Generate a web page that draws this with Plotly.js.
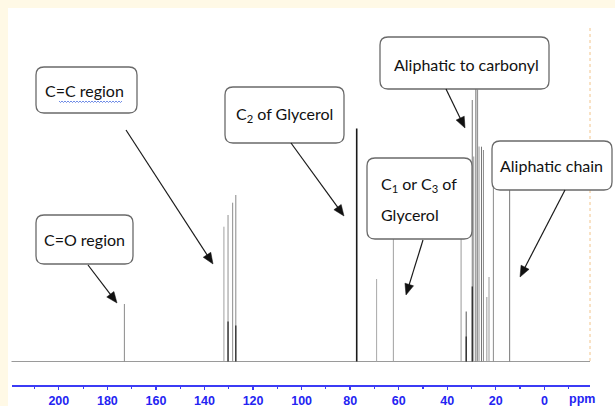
<!DOCTYPE html>
<html>
<head>
<meta charset="utf-8">
<script src="https://cdn.plot.ly/plotly-3.0.1.min.js"></script>
<style>html,body{margin:0;padding:0;background:#FFF9E6;}#chart{width:615px;height:406px;}</style>
</head>
<body>
<div id="chart"></div>
<script>
// ---- data ----
const peakPpm       = [173.0, 132.0, 130.3, 128.4, 127.1, 77.3, 69.1, 62.2, 34.3, 32.2, 29.7, 29.1, 28.2, 27.5, 26.9, 25.9, 25.1, 23.7, 22.8, 21.0, 14.3];
const peakIntensity = [57.5, 134.8, 146.5, 158.8, 166.5, 233, 82.5, 140, 140, 50, 261.5, 205, 273.5, 272, 215, 214.8, 211.5, 64.5, 84.5, 185, 185];
const peakShade     = ['#8a8a8a','#a0a0a0','#909090','#8c8c8c','#888888','#1a1a1a','#a8a8a8','#a0a0a0','#9a9a9a','#555555','#7a7a7a','#999999','#6a6a6a','#8a8a8a','#9a9a9a','#777777','#8a8a8a','#999999','#999999','#8a8a8a','#777777'];
const peakDark      = [0, 0, 40, 0, 36, 0, 0, 0, 0, 25, 75, 0, 0, 0, 0, 0, 0, 0, 0, 0, 0];
const tickValues = [200, 180, 160, 140, 120, 100, 80, 60, 40, 20, 0];
const tickLabels = ['200','180','160','140','120','100','80','60','40','20','0'];
const axisUnit = 'ppm';

// ---- layout helpers (pixel -> paper) ----
const W = 615, H = 406;
const PX = p => p / W;
const PY = p => 1 - p / H;

const traces = [];
for (let i = 0; i < peakPpm.length; i++) {
  traces.push({x:[peakPpm[i], peakPpm[i]], y:[0, peakIntensity[i]], mode:'lines',
    line:{color:peakShade[i], width: i === 5 ? 1.6 : 1}, hoverinfo:'skip', showlegend:false});
  if (peakDark[i] > 0) {
    traces.push({x:[peakPpm[i], peakPpm[i]], y:[0, peakDark[i]], mode:'lines',
      line:{color:'#222', width:1.2}, hoverinfo:'skip', showlegend:false});
  }
}

function roundRect(x0, y0, x1, y1, r) {
  const rx = r / W, ry = r / H;
  const a = PX(x0), b = PX(x1), t = PY(y0), bt = PY(y1);
  const p = `M ${a+rx},${t} L ${b-rx},${t} Q ${b},${t} ${b},${t-ry} L ${b},${bt+ry} Q ${b},${bt} ${b-rx},${bt} L ${a+rx},${bt} Q ${a},${bt} ${a},${bt+ry} L ${a},${t-ry} Q ${a},${t} ${a+rx},${t} Z`;
  return {type:'path', xref:'paper', yref:'paper', path:p, fillcolor:'#ffffff',
    line:{color:'#6a6a6a', width:1.3}, layer:'above'};
}

function arrowShapes(sx, sy, tx, ty) {
  const dx = tx - sx, dy = ty - sy, L = Math.hypot(dx, dy);
  const ux = dx / L, uy = dy / L, hl = 11, hw = 4.5;
  const bx = tx - ux * hl, by = ty - uy * hl;
  const px = -uy, py = ux;
  const tri = `M ${PX(tx)},${PY(ty)} L ${PX(bx + px*hw)},${PY(by + py*hw)} L ${PX(bx - px*hw)},${PY(by - py*hw)} Z`;
  return [
    {type:'line', xref:'paper', yref:'paper', x0:PX(sx), y0:PY(sy), x1:PX(bx + ux*2), y1:PY(by + uy*2),
     line:{color:'#1a1a1a', width:1.2}, layer:'above'},
    {type:'path', xref:'paper', yref:'paper', path:tri, fillcolor:'#111', line:{color:'#111', width:0.5}, layer:'above'}
  ];
}

const boxes = [
  [36, 67, 137, 113],
  [36, 215, 133, 264],
  [225, 87, 344, 143],
  [367, 158, 472, 239],
  [380, 37, 549, 89],
  [492, 141, 612, 190]
];

const arrows = [
  [126, 130, 213, 264],
  [88, 265, 117, 303],
  [291, 143, 344, 216],
  [423, 240, 406, 295],
  [446, 89, 465, 128],
  [565, 190, 520, 277]
];

const shapes = [
  {type:'rect', xref:'paper', yref:'paper', x0:PX(8), x1:PX(615), y0:PY(406), y1:PY(8),
   fillcolor:'#ffffff', line:{width:0}, layer:'below'},
  {type:'line', xref:'paper', yref:'paper', x0:PX(590), x1:PX(590), y0:PY(28), y1:PY(362),
   line:{color:'#f2c48a', width:1, dash:'dot'}, layer:'below'},
  {type:'line', xref:'paper', yref:'y', x0:PX(11.5), x1:PX(590), y0:0, y1:0,
   line:{color:'#9a9a9a', width:1}, layer:'below'}
];
boxes.forEach(b => shapes.push(roundRect(b[0], b[1], b[2], b[3], 8)));
arrows.forEach(a => arrowShapes(a[0], a[1], a[2], a[3]).forEach(s => shapes.push(s)));

// wavy spell-check underline under "region"
let wp = `M ${PX(59)},${PY(101)}`;
for (let x = 59, k = 0; x < 121; x += 1.5, k++) {
  wp += ` L ${PX(x + 1.5)},${PY(k % 2 ? 101 : 102.5)}`;
}
shapes.push({type:'path', xref:'paper', yref:'paper', path:wp, line:{color:'#4a6ee0', width:0.8}, layer:'above'});

const txtFont = {family:'Lato, "Liberation Sans", sans-serif', size:16, color:'#111'};
function label(text, x, y, anchor) {
  return {text:text, xref:'paper', yref:'paper', x:PX(x), y:PY(y), xanchor:anchor || 'center',
    yanchor:'middle', showarrow:false, font:txtFont};
}

const axisFont = {family:'"Liberation Sans", Arial, sans-serif', size:12.5, color:'#2424f2', weight:'bold'};

const annotations = [
  label('C=C region', 84, 90),
  label('C=O region', 84, 239),
  label('C<sub>2</sub> of Glycerol', 284, 114),
  label('C<sub>1</sub> or C<sub>3</sub> of', 379, 185, 'left'),
  label('Glycerol', 379, 214, 'left'),
  label('Aliphatic to carbonyl', 466, 64),
  label('Aliphatic chain', 551, 165),
  {text:axisUnit, xref:'paper', yref:'paper', x:PX(581.7), y:PY(398.5), xanchor:'center', yanchor:'middle',
   showarrow:false, font:axisFont}
];

const layout = {
  width:W, height:H,
  margin:{l:0, r:0, t:0, b:0},
  paper_bgcolor:'#FFF9E6',
  plot_bgcolor:'rgba(0,0,0,0)',
  showlegend:false,
  xaxis:{
    domain:[PX(11.5), PX(590)],
    range:[219.5, -18.8],
    showgrid:false, zeroline:false,
    showline:true, linecolor:'#3b3bf5', linewidth:1.5,
    ticks:'outside', ticklen:3, tickwidth:1.3, tickcolor:'#3b3bf5',
    tickmode:'array', tickvals:tickValues, ticktext:tickLabels,
    tickfont:axisFont,
    minor:{dtick:10, tick0:0, ticks:'outside', ticklen:2, tickcolor:'#3b3bf5', tickwidth:1.2},
    fixedrange:true
  },
  yaxis:{
    domain:[1 - 385 / H, 1 - 8 / H],
    range:[-23.5, 353.5],
    visible:false, fixedrange:true
  },
  shapes:shapes,
  annotations:annotations
};

Plotly.newPlot('chart', traces, layout, {staticPlot:true, displayModeBar:false});
</script>
</body>
</html>
